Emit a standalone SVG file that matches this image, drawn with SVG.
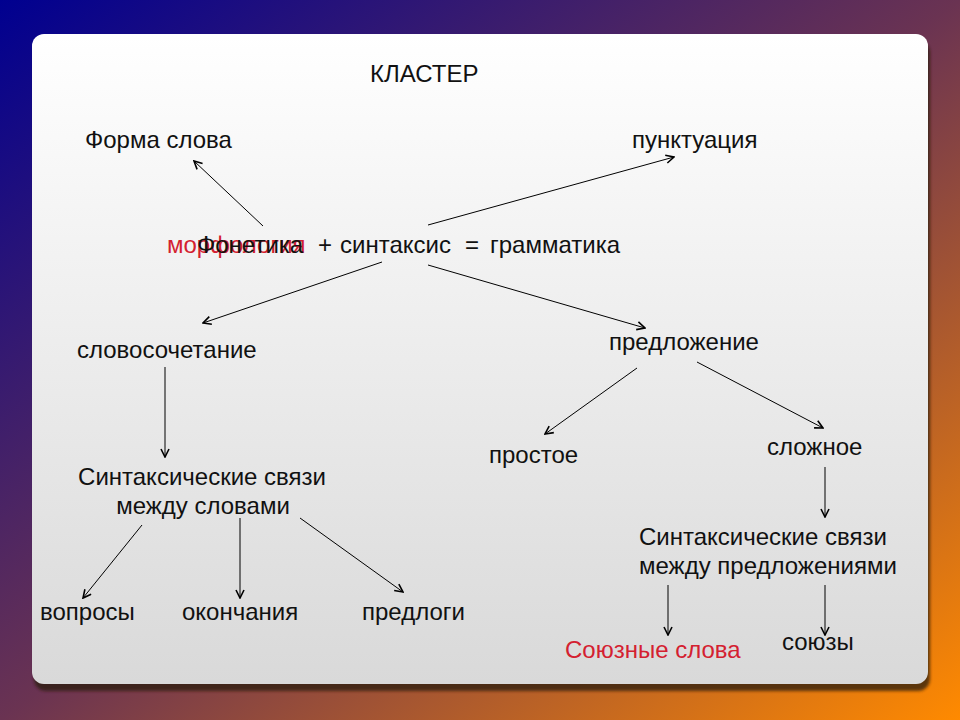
<svg xmlns="http://www.w3.org/2000/svg" width="960" height="720" viewBox="0 0 960 720">
<defs>
<linearGradient id="bg" x1="0" y1="0" x2="1" y2="1">
<stop offset="0" stop-color="#000090"/>
<stop offset="0.5" stop-color="#6a3352"/>
<stop offset="1" stop-color="#ff8a00"/>
</linearGradient>
<linearGradient id="panel" x1="0" y1="0" x2="0" y2="1">
<stop offset="0" stop-color="#ffffff"/>
<stop offset="1" stop-color="#d9d9d9"/>
</linearGradient>
<filter id="blur" x="-5%" y="-5%" width="110%" height="110%"><feGaussianBlur stdDeviation="1.5"/></filter>
<marker id="arr" viewBox="0 0 10 10" refX="9" refY="5" markerWidth="10" markerHeight="10" markerUnits="userSpaceOnUse" orient="auto">
<path d="M1,1 L9,5 L1,9" fill="none" stroke="#000" stroke-width="1.6"/>
</marker>
<style>
text{font-family:"Liberation Sans",Arial,sans-serif;font-size:24px;fill:#111}
.red{fill:#d42030}
.c line{stroke:#000;stroke-width:1;marker-end:url(#arr)}
</style>
</defs>
<rect width="960" height="720" fill="url(#bg)"/>
<rect x="34" y="41" width="896" height="650" rx="12" fill="#2a1a10" opacity="0.75" filter="url(#blur)"/>
<rect x="32" y="34" width="896" height="650" rx="12" fill="url(#panel)"/>
<g id="title"><text x="370" y="82">КЛАСТЕР</text></g>
<g id="forma"><text x="85" y="148">Форма слова</text></g>
<g id="punkt"><text x="632" y="148">пунктуация</text></g>
<g id="center">
<text x="167" y="253" class="red">морфология</text>
<text y="253"><tspan x="197">Фонетика</tspan><tspan x="318">+</tspan><tspan x="340">синтаксис</tspan><tspan x="465">=</tspan><tspan x="490">грамматика</tspan></text>
</g>
<g id="slovosoch"><text x="77" y="358">словосочетание</text></g>
<g id="predl"><text x="609" y="350">предложение</text></g>
<g id="prostoe"><text x="489" y="463">простое</text></g>
<g id="slozhnoe"><text x="767" y="455">сложное</text></g>
<g id="sv1"><text x="202" y="485" text-anchor="middle">Синтаксические связи</text><text x="203" y="514" text-anchor="middle">между словами</text></g>
<g id="voprosy"><text x="40" y="620">вопросы</text></g>
<g id="okonch"><text x="182" y="620">окончания</text></g>
<g id="predlogi"><text x="362" y="620">предлоги</text></g>
<g id="sv2"><text x="639" y="545">Синтаксические связи</text><text x="639" y="574">между предложениями</text></g>
<g id="souznye"><text x="565" y="658" class="red">Союзные слова</text></g>
<g id="souzy"><text x="782" y="650">союзы</text></g>
<g id="connectors" class="c">
<line x1="263" y1="226" x2="194" y2="161"/>
<line x1="428" y1="225" x2="674" y2="157"/>
<line x1="382" y1="262" x2="203" y2="323"/>
<line x1="428" y1="265" x2="645" y2="328"/>
<line x1="637" y1="368" x2="545" y2="434"/>
<line x1="697" y1="362" x2="823" y2="428"/>
<line x1="825" y1="467" x2="825" y2="517"/>
<line x1="668" y1="585" x2="668" y2="635"/>
<line x1="825" y1="585" x2="825" y2="635"/>
<line x1="165" y1="367" x2="165" y2="457"/>
<line x1="142" y1="525" x2="83" y2="598"/>
<line x1="240" y1="518" x2="240" y2="598"/>
<line x1="300" y1="518" x2="403" y2="592"/>
</g>
</svg>
